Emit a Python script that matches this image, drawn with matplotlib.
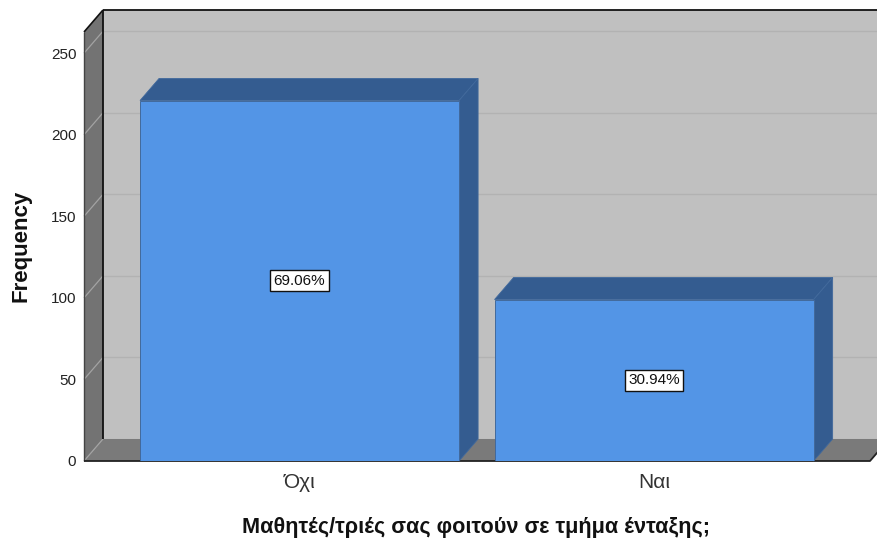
import matplotlib
matplotlib.use("Agg")
import matplotlib.pyplot as plt
from matplotlib.patches import Polygon

plt.rcParams["font.family"] = ["Liberation Sans", "DejaVu Sans"]

categories = ["Όχι", "Ναι"]
counts = [221, 99]
yticks = [0, 50, 100, 150, 200, 250]
xlabel = "Μαθητές/τριές σας φοιτούν σε τμήμα ένταξης;"
ylabel = "Frequency"

WALL = "#c0c0c0"
SIDE = "#737373"
FLOOR = "#7a7a7a"
GRID = "#b2b2b2"
SIDE_GRID = "#a3a3a3"
BAR = "#5395e6"
BAR_DARK = "#345c90"
EDGE = "#41699c"

W, H = 878, 543
fig = plt.figure(figsize=(W / 100, H / 100), dpi=100)
ax = fig.add_axes([84 / W, (H - 461) / H, 786 / W, 429 / H])
ax.set_xlim(-0.608, 1.609)
ax.set_ylim(0, 263)
for s in ax.spines.values():
    s.set_visible(False)
ax.patch.set_visible(False)

# depth of the 3D box in data units
dx = 0.0536
dy = 13.5
x0, x1 = ax.get_xlim()
y1 = ax.get_ylim()[1]
xr = x1 + 0.03


def poly(pts, fc, ec="none", lw=0, z=1):
    ax.add_patch(Polygon(pts, closed=True, facecolor=fc, edgecolor=ec,
                         linewidth=lw, zorder=z, clip_on=False))


def line(xs, ys, color, lw=1.0, z=2):
    ax.plot(xs, ys, color=color, lw=lw, zorder=z, clip_on=False,
            solid_capstyle="butt")


# back wall, left wall, floor
poly([(x0 + dx, dy), (xr, dy), (xr, y1 + dy), (x0 + dx, y1 + dy)], WALL)
poly([(x0, 0), (x0 + dx, dy), (x0 + dx, y1 + dy), (x0, y1)], SIDE)
poly([(x0, 0), (x1, 0), (x1 + dx, dy), (x0 + dx, dy)], FLOOR)

for t in yticks[1:]:
    line([x0 + dx, xr], [t + dy, t + dy], GRID, 1.0)
for t in yticks:
    line([x0, x0 + dx], [t, t + dy], SIDE_GRID, 0.9)

# box outline
line([x0 + dx, x0 + dx], [dy, y1 + dy], "#111111", 1.3, 3)
line([x0 + dx, xr], [y1 + dy, y1 + dy], "#111111", 1.3, 3)
line([x0, x0 + dx], [y1, y1 + dy], "#111111", 1.2, 3)
line([x0, x0], [0, y1], "#444444", 1.0, 3)
line([x0, x1, x1 + dx], [0, 0, dy], "#222222", 1.3, 3)

# bars with top and side faces
width = 0.9
total = sum(counts)
for i, c in enumerate(counts):
    l = i - width / 2
    r = i + width / 2
    poly([(l, c), (r, c), (r + dx, c + dy), (l + dx, c + dy)], BAR_DARK, EDGE, 0.6, 4)
    poly([(r, 0), (r + dx, dy), (r + dx, c + dy), (r, c)], BAR_DARK, EDGE, 0.6, 4)
    ax.bar(i, c, width=width, color=BAR, edgecolor=EDGE, linewidth=0.7, zorder=5)
    ax.text(i, c / 2, f"{100 * c / total:.2f}%", ha="center", va="center",
            fontsize=11, color="#111111", zorder=6,
            bbox=dict(boxstyle="square,pad=0.22", fc="white", ec="#111111", lw=1.0))

ax.set_xticks(range(len(categories)))
ax.set_xticklabels(categories, fontsize=15, color="#333333")
ax.set_yticks(yticks)
ax.set_yticklabels([str(t) for t in yticks], fontsize=11, color="#222222")
ax.tick_params(axis="both", length=0)
ax.tick_params(axis="x", pad=9)
ax.tick_params(axis="y", pad=5.5)

fig.text(476 / W, 1 - 527 / H, xlabel, ha="center", va="center",
         fontsize=15.6, fontweight="bold", color="#111111")
fig.text(21 / W, 1 - 246 / H, ylabel, ha="center", va="center", rotation=90,
         fontsize=16, fontweight="bold", color="#111111")

fig.savefig("out.png", dpi=100)
